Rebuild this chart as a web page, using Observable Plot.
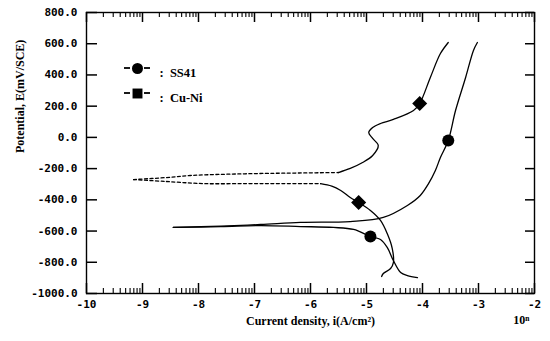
<!DOCTYPE html>
<html><head><meta charset="utf-8">
<script src="https://cdn.jsdelivr.net/npm/d3@7"></script>
<script src="https://cdn.jsdelivr.net/npm/@observablehq/plot@0.6"></script>
<style>
body{margin:0;background:#fff;}
</style></head><body><div id="wrap"></div>
<script>
// axis ticks
const xTicks = [-10, -9, -8, -7, -6, -5, -4, -3, -2];
const yTicks = [800, 600, 400, 200, 0, -200, -400, -600, -800, -1000];
const xTitle = "Current density, i(A/cm\u00B2)";
const yTitle = "Potential, E(mV/SCE)";
const xUnit = "10\u207F";

// Cu-Ni anodic branch: [log i, E mV]
const cuAnodicDashed = [[-9.16,-270],[-8.6,-258],[-8.14,-244],[-7.5,-236],[-6.84,-231],[-6.2,-228],[-5.50,-225]];
const cuAnodicSolid = [[-5.50,-225],[-5.29,-199],[-5.07,-161],[-4.89,-116],[-4.79,-52],[-4.89,-7],[-4.96,31],[-4.89,63],[-4.75,89],[-4.52,115],[-4.16,172],[-4.05,217],[-3.86,384],[-3.68,537],[-3.54,608]];
// Cu-Ni cathodic branch
const cuCathodicDashed = [[-9.16,-270],[-8.6,-282],[-7.91,-296],[-7.13,-296],[-6.5,-296],[-5.82,-296]];
const cuCathodicSolid = [[-5.82,-296],[-5.62,-312],[-5.46,-340],[-5.29,-385],[-5.14,-417],[-4.93,-468],[-4.75,-532],[-4.63,-616],[-4.54,-712],[-4.52,-802],[-4.57,-840],[-4.70,-872],[-4.73,-891]];
// SS41 anodic branch
const ssAnodic = [[-8.45,-577],[-7.6,-568],[-6.89,-558],[-6.18,-545],[-5.29,-539],[-4.70,-513],[-4.27,-436],[-4.04,-372],[-3.89,-295],[-3.77,-212],[-3.68,-129],[-3.54,-20],[-3.41,172],[-3.23,384],[-3.09,557],[-3.02,608]];
// SS41 cathodic branch
const ssCathodic = [[-8.45,-577],[-7.6,-572],[-6.89,-565],[-6.18,-571],[-5.59,-577],[-5.23,-590],[-4.93,-635],[-4.75,-654],[-4.63,-705],[-4.52,-789],[-4.39,-866],[-4.27,-885],[-4.09,-898]];

// markers
const ssMarkers = [[-3.54,-20],[-4.93,-635]];
const cuMarkers = [[-4.05,217],[-5.14,-417]];

// legend
const legendNames = ["SS41", "Cu-Ni"];

// minor log ticks
const minorX = [];
for (let n = -10; n < -2; n++) for (let k = 2; k <= 9; k++) minorX.push(n + Math.log10(k));

const W = 550, H = 341, ML = 86, MR = 16, MT = 12, MB = 48;
const xDomain = [-10, -2], yDomain = [-1000, 800];
const FW = W - ML - MR, FH = H - MT - MB;
// tick lengths expressed as scale units per pixel
const yPerPx = (yDomain[1] - yDomain[0]) / FH;
const xPerPx = (xDomain[1] - xDomain[0]) / FW;
const tickFont = "'DejaVu Sans Mono', monospace";
const serif = "'Liberation Serif', 'DejaVu Serif', serif";
const lineStyle = {x: d => d[0], y: d => d[1], stroke: "black", strokeWidth: 1.3, curve: "catmull-rom"};

// legend dashes around the legend symbols
function legendDashes(index, scales, values, dims) {
  const left = dims.marginLeft;
  const g = d3.create("svg:g").attr("stroke", "black").attr("stroke-width", 1.8);
  [68, 93].forEach(ly => {
    g.append("line").attr("x1", left + 38).attr("x2", left + 44).attr("y1", ly).attr("y2", ly);
    g.append("line").attr("x1", left + 58).attr("x2", left + 64).attr("y1", ly).attr("y2", ly);
  });
  return g.node();
}

const chart = Plot.plot({
  width: W, height: H,
  marginLeft: ML, marginRight: MR, marginTop: MT, marginBottom: MB,
  x: {domain: xDomain, label: null},
  y: {domain: yDomain, label: null},
  style: {background: "white", color: "black"},
  marks: [
    Plot.frame({stroke: "black", strokeWidth: 1.4}),
    // inward ticks: bottom, top, left, right
    Plot.ruleX(xTicks, {x: d => d, y1: yDomain[0], y2: yDomain[0] + 10 * yPerPx, stroke: "black", strokeWidth: 1.5}),
    Plot.ruleX(xTicks, {x: d => d, y1: yDomain[1], y2: yDomain[1] - 10 * yPerPx, stroke: "black", strokeWidth: 1.5}),
    Plot.ruleX(minorX, {x: d => d, y1: yDomain[0], y2: yDomain[0] + 5 * yPerPx, stroke: "black", strokeWidth: 1.1}),
    Plot.ruleX(minorX, {x: d => d, y1: yDomain[1], y2: yDomain[1] - 5 * yPerPx, stroke: "black", strokeWidth: 1.1}),
    Plot.ruleY(yTicks, {y: d => d, x1: xDomain[0], x2: xDomain[0] + 11 * xPerPx, stroke: "black", strokeWidth: 1.5}),
    Plot.ruleY(yTicks, {y: d => d, x1: xDomain[1], x2: xDomain[1] - 9 * xPerPx, stroke: "black", strokeWidth: 1.5}),
    legendDashes,
    // tick labels
    Plot.axisX({ticks: xTicks, tickSize: 0, tickPadding: 7, tickFormat: d => String(d), label: null,
      fontFamily: tickFont, fontWeight: "bold", fontSize: 11}),
    Plot.axisY({ticks: yTicks, tickSize: 0, tickPadding: 9, tickFormat: d => d.toFixed(1), label: null,
      fontFamily: tickFont, fontWeight: "bold", fontSize: 11}),
    // curves
    Plot.line(cuAnodicDashed, {...lineStyle, strokeDasharray: "3,2.5"}),
    Plot.line(cuCathodicDashed, {...lineStyle, strokeDasharray: "3,2.5"}),
    Plot.line(cuAnodicSolid, lineStyle),
    Plot.line(cuCathodicSolid, lineStyle),
    Plot.line(ssAnodic, lineStyle),
    Plot.line(ssCathodic, lineStyle),
    // markers
    Plot.dot(ssMarkers, {x: d => d[0], y: d => d[1], r: 6, fill: "black", stroke: "none"}),
    Plot.dot(cuMarkers, {x: d => d[0], y: d => d[1], r: 6, symbol: "square", rotate: 45, fill: "black", stroke: "none"}),
    // legend
    Plot.dot([legendNames[0]], {frameAnchor: "top-left", dx: 51, dy: 56, r: 5.5, fill: "black", stroke: "none"}),
    Plot.dot([legendNames[1]], {frameAnchor: "top-left", dx: 51, dy: 81, r: 5.6, symbol: "square", fill: "black", stroke: "none"}),
    Plot.text(legendNames.slice(0, 1), {text: d => ":  " + d, frameAnchor: "top-left", dx: 73, dy: 56, textAnchor: "start", fontSize: 12.5, fontWeight: "bold", fontFamily: serif}),
    Plot.text(legendNames.slice(1, 2), {text: d => ":  " + d, frameAnchor: "top-left", dx: 73, dy: 81, textAnchor: "start", fontSize: 12.5, fontWeight: "bold", fontFamily: serif}),
    // axis titles
    Plot.text([xTitle], {frameAnchor: "bottom", dy: 31, fontSize: 12, fontWeight: "bold", fontFamily: serif}),
    Plot.text([xUnit], {frameAnchor: "bottom-right", dx: -5, dy: 30, fontSize: 12, fontWeight: "bold", fontFamily: serif}),
    Plot.text([yTitle], {frameAnchor: "left", dx: -66, rotate: -90, fontSize: 12, fontWeight: "bold", fontFamily: serif})
  ]
});
document.getElementById("wrap").appendChild(chart);
</script>
</body></html>
